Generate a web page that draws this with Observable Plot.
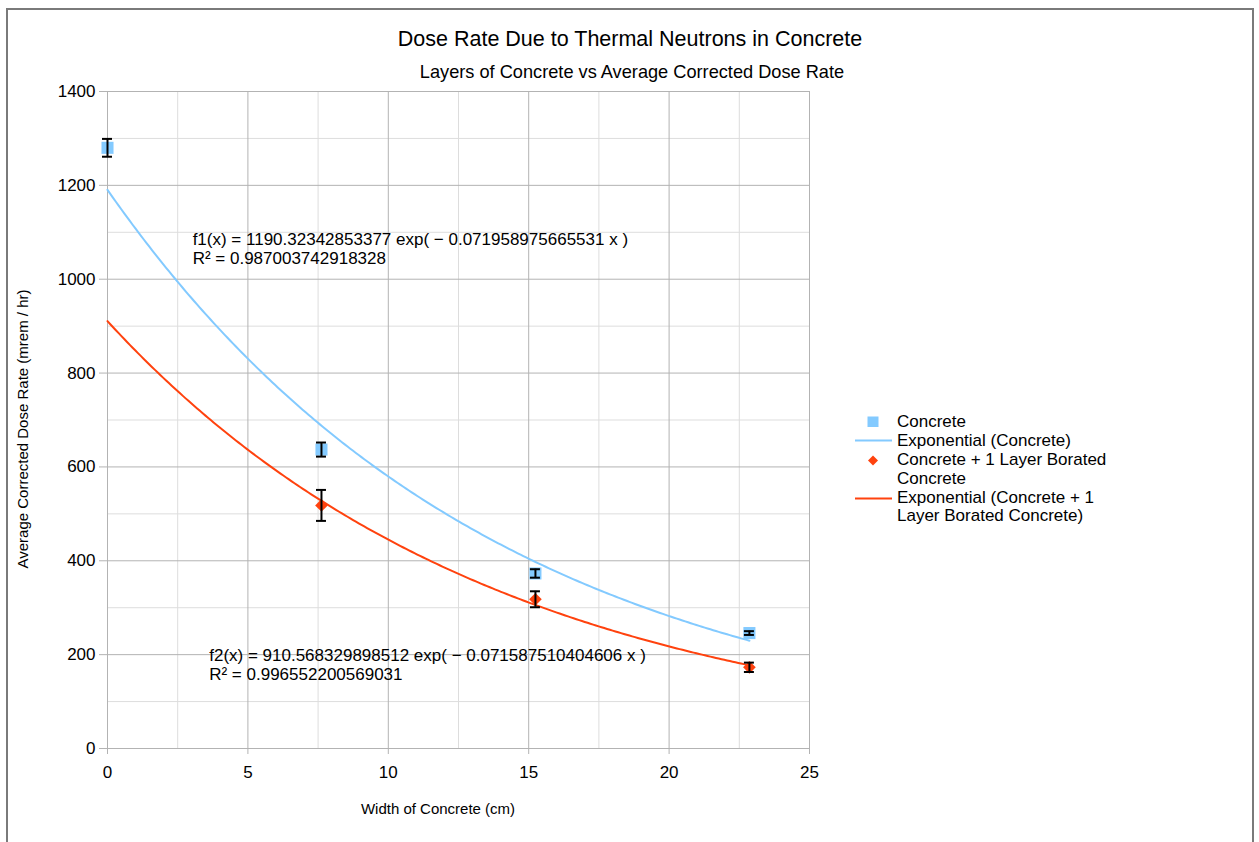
<!DOCTYPE html>
<html>
<head>
<meta charset="utf-8">
<script src="https://cdn.jsdelivr.net/npm/d3@7"></script>
<script src="https://cdn.jsdelivr.net/npm/@observablehq/plot@0.6"></script>
<style>
html, body { margin: 0; padding: 0; background: #fff; }
#wrap { position: relative; width: 1259px; height: 842px; overflow: hidden; font-family: "Liberation Sans", Arial, sans-serif; }
#wrap svg { position: absolute; left: 0; top: 0; background: transparent; }
#frame { position: absolute; left: 6px; top: 8px; width: 1248px; height: 900px; border: 2px solid #7a7a7a; box-sizing: border-box; pointer-events: none; }
</style>
</head>
<body>
<div id="wrap"><div id="frame"></div></div>
<script>
// ---- data ----
const concreteWidths = [0, 7.62, 15.24, 22.86];
const concreteRate = [1280, 637, 373, 246];
const concreteErr = [19, 15, 9, 4];

const boratedWidths = [7.62, 15.24, 22.86];
const boratedRate = [518, 318, 173];
const boratedErr = [33, 17, 10];

// fitted trendlines as printed on the chart
const fit1 = {a: 1190.32342853377, b: -0.071958975665531};
const fit2 = {a: 910.568329898512, b: -0.071587510404606};
const trendRange = [0, 22.86];

const xTicks = [0, 5, 10, 15, 20, 25];
const xMinor = [2.5, 7.5, 12.5, 17.5, 22.5];
const yTicks = [0, 200, 400, 600, 800, 1000, 1200, 1400];
const yMinor = [100, 300, 500, 700, 900, 1100, 1300];

const titleText = "Dose Rate Due to Thermal Neutrons in Concrete";
const subtitleText = "Layers of Concrete vs Average Corrected Dose Rate";
const xLabel = "Width of Concrete (cm)";
const yLabel = "Average Corrected Dose Rate (mrem / hr)";
const eq1 = ["f1(x) = 1190.32342853377 exp( \u2212 0.071958975665531 x )", "R\u00b2 = 0.987003742918328"];
const eq2 = ["f2(x) = 910.568329898512 exp( \u2212 0.071587510404606 x )", "R\u00b2 = 0.996552200569031"];
const legendLabels = ["Concrete", "Exponential (Concrete)", "Concrete + 1 Layer Borated", "Concrete", "Exponential (Concrete + 1", "Layer Borated Concrete)"];

const blue = "#83caff";
const red = "#ff420e";

// ---- tables ----
const concrete = concreteWidths.map((x, i) => ({x, y: concreteRate[i], e: concreteErr[i]}));
const borated = boratedWidths.map((x, i) => ({x, y: boratedRate[i], e: boratedErr[i]}));
const steps = 230;
const trend = [];
for (let i = 0; i <= steps; i++) {
  const x = trendRange[0] + (trendRange[1] - trendRange[0]) * i / steps;
  trend.push({x, y: fit1.a * Math.exp(fit1.b * x), s: "c"});
  trend.push({x, y: fit2.a * Math.exp(fit2.b * x), s: "b"});
}

const font = '"Liberation Sans", Arial, sans-serif';

const errMarks = (data) => [
  Plot.ruleX(data, {x: "x", y1: d => d.y - d.e, y2: d => d.y + d.e, stroke: "#000", strokeWidth: 2}),
  Plot.ruleY(data, {y: d => d.y - d.e, x1: "x", x2: "x", insetLeft: -5, insetRight: -5, stroke: "#000", strokeWidth: 2}),
  Plot.ruleY(data, {y: d => d.y + d.e, x1: "x", x2: "x", insetLeft: -5, insetRight: -5, stroke: "#000", strokeWidth: 2})
];

const plot = Plot.plot({
  width: 1259,
  height: 842,
  marginLeft: 107,
  marginRight: 450,
  marginTop: 91,
  marginBottom: 94,
  style: {fontFamily: font, background: "transparent", overflow: "visible"},
  x: {domain: [0, 25]},
  y: {domain: [0, 1400]},
  marks: [
    Plot.ruleY(yMinor, {stroke: "#dddddd"}),
    Plot.ruleX(xMinor, {stroke: "#dddddd"}),
    Plot.ruleY(yTicks, {stroke: "#b3b3b3"}),
    Plot.ruleX(xTicks, {stroke: "#b3b3b3"}),
    Plot.axisY({ticks: yTicks, tickFormat: d => String(d), tickSize: 8, tickPadding: 4, stroke: "#b3b3b3", color: "#000", fontSize: 17, label: null}),
    Plot.axisX({ticks: xTicks, tickFormat: d => String(d), tickSize: 6, tickPadding: 11, stroke: "#b3b3b3", color: "#000", fontSize: 17, label: null}),
    Plot.dot(concrete, {x: "x", y: "y", symbol: "square", r: 6.8, fill: blue, stroke: null}),
    Plot.dot(borated, {x: "x", y: "y", symbol: "diamond2", r: 5.7, fill: red, stroke: null}),
    Plot.line(trend.filter(d => d.s === "c"), {x: "x", y: "y", stroke: blue, strokeWidth: 2}),
    Plot.line(trend.filter(d => d.s === "b"), {x: "x", y: "y", stroke: red, strokeWidth: 2}),
    ...errMarks(concrete),
    ...errMarks(borated)
  ]
});

document.getElementById("wrap").insertBefore(plot, document.getElementById("frame"));

const svg = d3.select(plot);
const sx = plot.scale("x");
const sy = plot.scale("y");
const g = svg.append("g").attr("font-family", font).attr("fill", "#000").attr("text-anchor", "start");

// titles
g.append("text").attr("x", 630).attr("y", 46).attr("text-anchor", "middle").attr("font-size", 21.5).text(titleText);
g.append("text").attr("x", 632).attr("y", 78).attr("text-anchor", "middle").attr("font-size", 18.2).text(subtitleText);
// axis titles
g.append("text").attr("x", 438).attr("y", 814).attr("text-anchor", "middle").attr("font-size", 15).text(xLabel);
g.append("text").attr("transform", "translate(28,429) rotate(-90)").attr("text-anchor", "middle").attr("font-size", 15).text(yLabel);

// equations (placed at data positions next to the curves)
const eqPos = [[3.05, 1071], [3.64, 185]];
[eq1, eq2].forEach((lines, k) => {
  const px = sx.apply(eqPos[k][0]);
  const py = sy.apply(eqPos[k][1]);
  lines.forEach((t, j) => {
    g.append("text").attr("x", px).attr("y", py + j * 18.8).attr("text-anchor", "start").attr("font-size", 17).text(t);
  });
});

// legend
const lg = g.append("g");
const lx = 873, tx = 897;
const base = [427, 446, 465, 484, 502.5, 521];
lg.append("rect").attr("x", lx - 5.5).attr("y", 416.5).attr("width", 11).attr("height", 10.5).attr("fill", blue);
lg.append("line").attr("x1", 855).attr("x2", 892).attr("y1", 440.5).attr("y2", 440.5).attr("stroke", blue).attr("stroke-width", 2);
lg.append("path").attr("d", `M${lx},455.5 L${lx + 5},460.5 L${lx},465.5 L${lx - 5},460.5 Z`).attr("fill", red);
lg.append("line").attr("x1", 855).attr("x2", 892).attr("y1", 498.5).attr("y2", 498.5).attr("stroke", red).attr("stroke-width", 2);
legendLabels.forEach((t, i) => {
  lg.append("text").attr("x", tx).attr("y", base[i]).attr("text-anchor", "start").attr("font-size", 17).text(t);
});
</script>
</body>
</html>
